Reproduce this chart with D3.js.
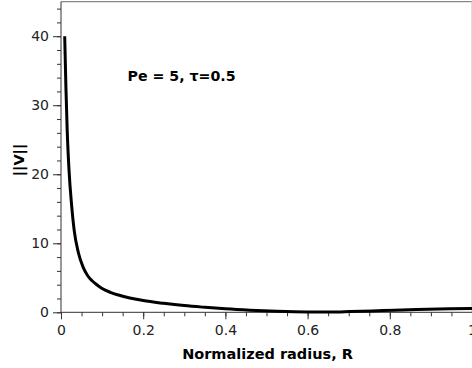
<!DOCTYPE html>
<html><head><meta charset="utf-8">
<script src="https://cdn.jsdelivr.net/npm/d3@7"></script>
<style>
html,body{margin:0;padding:0;background:#fff;overflow:hidden}
text{font-family:"DejaVu Sans",sans-serif}
</style></head>
<body><svg id="c" width="472" height="368"></svg>
<script>
// Data
const radius = [0.009,0.012,0.015,0.0195,0.026,0.032,0.042,0.054,0.065,0.075,0.088,0.1,0.12,0.14,0.16,0.18,0.2,0.25,0.3,0.35,0.4,0.46,0.525,0.6,0.66,0.703,0.784,0.865,0.946,1.0];
const velocity = [40,32.5,26.5,20.6,15.4,11.9,8.7,6.5,5.3,4.6,3.95,3.45,2.9,2.5,2.17,1.92,1.7,1.3,0.97,0.72,0.5,0.3,0.14,0.04,0.03,0.1,0.25,0.4,0.5,0.55];
const xTicks = [0,0.2,0.4,0.6,0.8,1];
const xTickLabels = ["0","0.2","0.4","0.6","0.8","1"];
const yTicks = [0,10,20,30,40];
const annotation = "Pe = 5, \u03c4=0.5";
const xTitle = "Normalized radius, R";
const yTitle = "||V||";

const svg = d3.select("#c");
const L=61, R=472, T=1.7, B=312.3;
const x = d3.scaleLinear().domain([0,1]).range([L,R]);
const y = d3.scaleLinear().domain([0,45]).range([B,T]);

// frame (top/right light)
svg.append("line").attr("x1",L).attr("x2",R).attr("y1",T).attr("y2",T).attr("stroke","#888").attr("stroke-width",1.2);
svg.append("line").attr("x1",471.5).attr("x2",471.5).attr("y1",T).attr("y2",B).attr("stroke","#ddd").attr("stroke-width",1);

// minor ticks
const xMinor = d3.range(0,1.0001,0.05);
svg.append("g").attr("transform",`translate(0,${B})`)
  .call(d3.axisBottom(x).tickValues(xMinor).tickSize(4).tickFormat(""))
  .call(g=>{g.select(".domain").remove();g.selectAll("line").attr("stroke","#333");});
const yMinor = d3.range(0,45.001,2);
svg.append("g").attr("transform",`translate(${L},0)`)
  .call(d3.axisLeft(y).tickValues(yMinor).tickSize(4).tickFormat(""))
  .call(g=>{g.select(".domain").remove();g.selectAll("line").attr("stroke","#333");});

// major axes
const gx = svg.append("g").attr("transform",`translate(0,${B})`)
  .call(d3.axisBottom(x).tickValues(xTicks).tickSize(7).tickPadding(6).tickFormat((d,i)=>xTickLabels[i]));
gx.select(".domain").attr("stroke","#333").attr("d",`M${L},0H${R}`);
gx.selectAll("line").attr("stroke","#333");
gx.selectAll("text").attr("font-size",14).attr("fill","#222").attr("font-family","DejaVu Sans");

const gy = svg.append("g").attr("transform",`translate(${L},0)`)
  .call(d3.axisLeft(y).tickValues(yTicks).tickSize(8).tickPadding(4));
gy.select(".domain").attr("stroke","#333").attr("d",`M0,${B}V${T}`);
gy.selectAll("line").attr("stroke","#333");
gy.selectAll("text").attr("font-size",14).attr("fill","#222").attr("font-family","DejaVu Sans");

// curve
const pts = radius.map((r,i)=>[r,velocity[i]]);
svg.append("path").datum(pts)
  .attr("d",d3.line().x(d=>x(d[0])).y(d=>y(d[1])).curve(d3.curveMonotoneX))
  .attr("fill","none").attr("stroke","#000").attr("stroke-width",3);

// texts
svg.append("text").attr("x",127.5).attr("y",81).attr("font-size",14.2).attr("font-weight","bold").attr("fill","#000").text(annotation);
svg.append("text").attr("x",(L+R)/2+1).attr("y",359).attr("text-anchor","middle").attr("font-size",14.5).attr("font-weight","bold").attr("fill","#000").text(xTitle);
svg.append("text").attr("transform",`translate(24,160) rotate(-90)`).attr("text-anchor","middle").attr("font-size",14.5).attr("font-weight","bold").attr("fill","#000").text(yTitle);
</script></body></html>
